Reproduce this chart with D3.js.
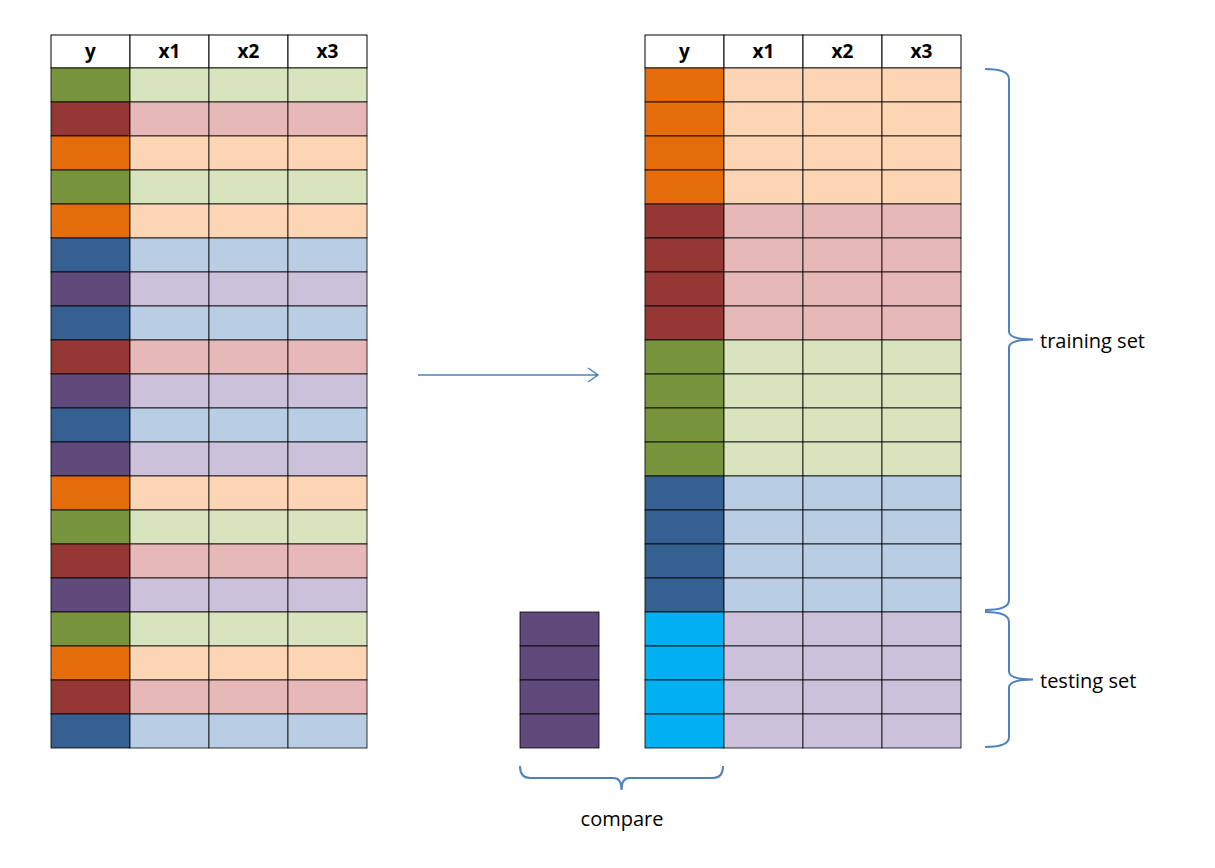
<!DOCTYPE html>
<html><head><meta charset="utf-8">
<script src="https://cdn.jsdelivr.net/npm/d3@7"></script>
<style>body{margin:0;background:#fff}</style>
</head><body>
<div id="vis"></div>
<script>
// columns and row classes
const columns = ["y", "x1", "x2", "x3"];
const leftRows = ["green","red","orange","green","orange","blue","purple","blue","red","purple",
                  "blue","purple","orange","green","red","purple","green","orange","red","blue"];
const rightRows = ["orange","orange","orange","orange","red","red","red","red",
                   "green","green","green","green","blue","blue","blue","blue",
                   "test","test","test","test"];
const compareRows = ["purple","purple","purple","purple"];
const labels = ["training set", "testing set", "compare"];

const DARK = {green:"#77933C", red:"#953735", orange:"#E46C0A", blue:"#376092", purple:"#604A7B", test:"#00B0F0"};
const LIGHT = {green:"#D7E4BD", red:"#E6B9B8", orange:"#FCD5B5", blue:"#B9CDE5", purple:"#CCC1DA", test:"#CCC1DA"};

const ROW_H = 34, TOP = 68;

const svg = d3.select("#vis").append("svg").attr("width", 1215).attr("height", 868);

const y = d3.scaleLinear().domain([0, 20]).range([TOP, TOP + 20 * ROW_H]);

function drawTable(x0, rows) {
  const x = d3.scaleBand().domain(columns).range([x0, x0 + 316]);
  const g = svg.append("g");
  g.selectAll(".hd").data(columns).enter().append("rect")
    .attr("x", d => x(d)).attr("y", 35).attr("width", x.bandwidth()).attr("height", TOP - 35)
    .attr("fill", "#fff").attr("stroke", "#000");
  g.selectAll(".ht").data(columns).enter().append("text")
    .attr("x", d => x(d) + x.bandwidth() / 2).attr("y", 58)
    .attr("text-anchor", "middle").style("font", "bold 19px 'Open Sans', sans-serif").text(d => d);
  rows.forEach((r, i) => {
    columns.forEach((c, j) => {
      g.append("rect").attr("x", x(c)).attr("y", y(i)).attr("width", x.bandwidth()).attr("height", ROW_H)
        .attr("fill", j == 0 ? DARK[r] : LIGHT[r]).attr("stroke", "#000").attr("stroke-width", 0.8);
    });
  });
}

drawTable(51, leftRows);
drawTable(645, rightRows);

// compare column
svg.selectAll(".cmp").data(compareRows).enter().append("rect")
  .attr("x", 520).attr("y", (d, i) => y(16 + i)).attr("width", 79).attr("height", ROW_H)
  .attr("fill", d => DARK[d]).attr("stroke", "#000").attr("stroke-width", 0.8);

const BLUE = "#4F81BD";
// arrow
svg.append("path").attr("d", "M418,375 L598,375 M588,368 L598,375 L588,382")
  .attr("fill", "none").attr("stroke", BLUE).attr("stroke-width", 1.5);

// vertical brace: x0 = ends, x1 = spine, tip
function vBrace(x0, y0, y1, w) {
  const m = (y0 + y1) / 2, s = x0 + w, t = s + w;
  return `M${x0},${y0} Q${s},${y0} ${s},${y0 + 10} L${s},${m - 8} Q${s},${m} ${t},${m}
          Q${s},${m} ${s},${m + 8} L${s},${y1 - 10} Q${s},${y1} ${x0},${y1}`;
}
function hBrace(x0, x1, y0, h) {
  const m = (x0 + x1) / 2, s = y0 + h, t = s + h;
  return `M${x0},${y0} Q${x0},${s} ${x0 + 10},${s} L${m - 8},${s} Q${m},${s} ${m},${t}
          Q${m},${s} ${m + 8},${s} L${x1 - 10},${s} Q${x1},${s} ${x1},${y0}`;
}
svg.append("path").attr("d", vBrace(985, 69, 610, 24)).attr("fill", "none").attr("stroke", BLUE).attr("stroke-width", 2);
svg.append("path").attr("d", vBrace(985, 612, 747, 24)).attr("fill", "none").attr("stroke", BLUE).attr("stroke-width", 2);
svg.append("path").attr("d", hBrace(520, 723, 766, 12)).attr("fill", "none").attr("stroke", BLUE).attr("stroke-width", 2);

const font = "20px 'Open Sans', sans-serif";
svg.append("text").attr("x", 1040).attr("y", 348).style("font", font).text(labels[0]);
svg.append("text").attr("x", 1040).attr("y", 688).style("font", font).text(labels[1]);
svg.append("text").attr("x", 622).attr("y", 826).attr("text-anchor", "middle").style("font", font).text(labels[2]);
</script>
</body></html>
